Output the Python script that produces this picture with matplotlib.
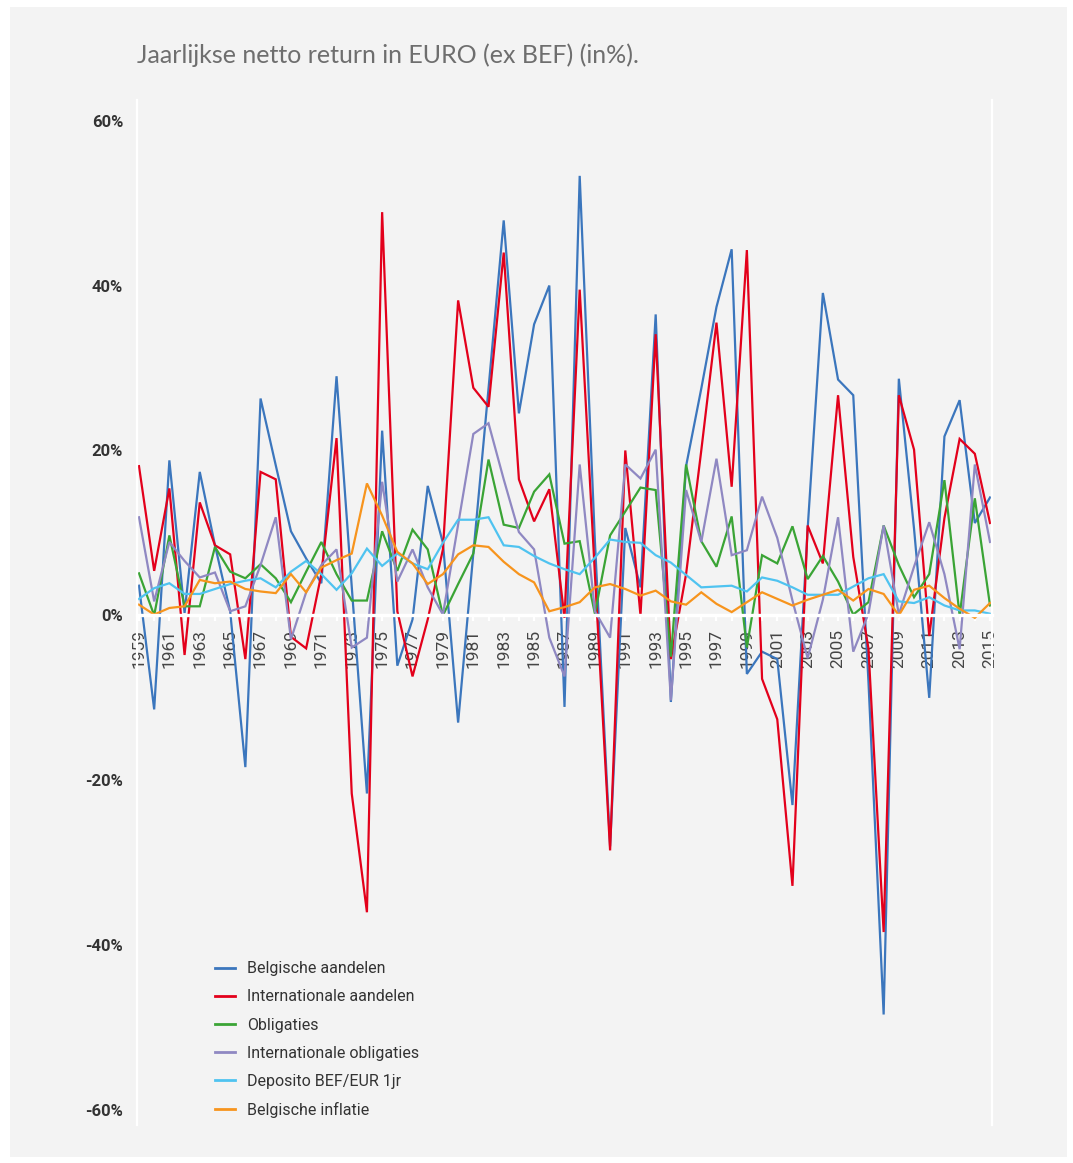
import numpy as np
import matplotlib
matplotlib.use("Agg")
import matplotlib.pyplot as plt
from matplotlib.patches import Rectangle

years = list(range(1959, 2016))

belgische_aandelen = [3.6, -11.4, 18.8, 0.3, 17.4, 8.5, 0.5, -18.4, 26.3, 18.2,
                      10.2, 6.9, 3.9, 29.0, 3.5, -21.6, 22.4, -6.1, -0.5, 15.7,
                      8.8, -13.0, 7.5, 27.5, 47.9, 24.5, 35.3, 40.0, -11.1, 53.3,
                      9.0, -28.0, 10.6, 3.4, 36.5, -10.5, 18.1, 27.5, 37.4, 44.4,
                      -7.1, -4.4, -5.3, -23.0, 10.5, 39.1, 28.6, 26.7, -8.0, -48.4,
                      28.7, 10.5, -10.0, 21.7, 26.1, 11.2, 14.3]
internationale_aandelen = [18.1, 5.4, 15.4, -4.8, 13.7, 8.5, 7.4, -5.3, 17.4, 16.5,
                           -2.6, -4.0, 5.0, 21.5, -21.6, -36.0, 48.9, 0.5, -7.4, -0.5,
                           8.0, 38.2, 27.6, 25.3, 44.0, 16.5, 11.4, 15.3, -0.3, 39.5,
                           5.0, -28.5, 20.0, 0.0, 34.1, -5.3, 5.0, 20.0, 35.5, 15.6,
                           44.3, -7.7, -12.6, -32.8, 10.9, 6.3, 26.7, 7.1, -4.0, -38.4,
                           26.7, 20.1, -2.5, 11.8, 21.4, 19.6, 11.2]
obligaties = [5.1, 0.0, 9.7, 1.1, 1.1, 8.3, 5.3, 4.5, 6.2, 4.5,
              1.6, 5.3, 8.9, 5.0, 1.8, 1.8, 10.2, 5.4, 10.4, 8.0,
              0.0, 3.8, 7.5, 18.9, 11.0, 10.6, 15.0, 17.1, 8.7, 9.0,
              0.2, 9.7, 12.6, 15.5, 15.2, -5.0, 18.3, 9.0, 5.9, 12.0,
              -3.9, 7.3, 6.3, 10.8, 4.4, 7.2, 4.1, 0.1, 1.6, 10.9,
              6.1, 2.2, 5.0, 16.4, 0.0, 14.2, 1.2]
internationale_obligaties = [11.9, 1.7, 8.9, 6.6, 4.6, 5.2, 0.5, 1.1, 6.1, 11.9,
                             -2.9, 2.8, 6.1, 8.0, -3.9, -2.7, 16.2, 4.1, 8.0, 3.4,
                             0.1, 11.0, 22.0, 23.3, 16.5, 10.1, 8.0, -2.7, -7.4, 18.3,
                             0.5, -2.7, 18.3, 16.6, 20.1, -10.3, 15.2, 8.9, 19.0, 7.3,
                             7.9, 14.4, 9.4, 1.8, -5.2, 1.9, 11.9, -4.4, 0.2, 10.9,
                             0.1, 5.9, 11.3, 5.0, -4.1, 18.3, 8.9]
deposito = [2.0, 3.3, 3.9, 2.6, 2.6, 3.2, 3.8, 4.2, 4.5, 3.4,
            5.3, 6.6, 5.0, 3.1, 5.1, 8.1, 6.0, 7.5, 6.3, 5.6,
            8.8, 11.6, 11.6, 11.9, 8.5, 8.3, 7.2, 6.3, 5.6, 5.0,
            7.0, 9.2, 8.9, 8.8, 7.3, 6.4, 4.9, 3.4, 3.5, 3.6,
            2.9, 4.6, 4.2, 3.4, 2.5, 2.5, 2.5, 3.5, 4.5, 5.0,
            1.7, 1.5, 2.2, 1.2, 0.6, 0.6, 0.2]
inflatie = [1.3, 0.1, 0.9, 1.1, 4.3, 3.9, 4.1, 3.2, 2.9, 2.7,
            5.0, 2.8, 5.8, 6.7, 7.5, 16.0, 12.1, 7.7, 6.3, 3.8,
            5.0, 7.4, 8.5, 8.3, 6.5, 5.0, 4.0, 0.5, 1.0, 1.6,
            3.4, 3.8, 3.2, 2.4, 3.0, 1.7, 1.3, 2.8, 1.4, 0.4,
            1.6, 2.8, 2.0, 1.2, 1.9, 2.5, 3.1, 1.8, 3.2, 2.6,
            0.0, 3.1, 3.6, 2.1, 0.8, -0.3, 1.5]

series_names = ["Belgische aandelen", "Internationale aandelen", "Obligaties",
                "Internationale obligaties", "Deposito BEF/EUR 1jr", "Belgische inflatie"]
series_values = [belgische_aandelen, internationale_aandelen, obligaties,
                 internationale_obligaties, deposito, inflatie]
series_colors = ["#3b76bd", "#e3001b", "#3aa435", "#8f88c2", "#4fc3f0", "#f7941d"]

y_ticks = [60, 40, 20, 0, -20, -40, -60]
y_ticklabels = ["60%", "40%", "20%", "0%", "-20%", "-40%", "-60%"]
title = "Jaarlijkse netto return in EURO (ex BEF) (in%)."

narrow = ["Roboto", "DejaVu Sans"]

W, H = 1073, 1163
fig = plt.figure(figsize=(W / 100, H / 100), dpi=100, facecolor="white")
fig.patches.append(Rectangle((10 / W, 1 - 1157 / H), 1057 / W, 1150 / H,
                             transform=fig.transFigure, facecolor="#f3f3f3",
                             edgecolor="none", zorder=-10))

ax = fig.add_axes([137 / W, 38 / H, 855 / W, 1025 / H])
ax.set_facecolor("#f3f3f3")
ax.patch.set_alpha(0)

for name, vals, col in zip(series_names, series_values, series_colors):
    ax.plot(years, vals, color=col, lw=1.6, label=name, solid_joinstyle="miter")

ax.set_xlim(1958.87, 2015.13)
ax.set_ylim(-61.8, 62.5)

ax.spines["top"].set_visible(False)
for s in ["left", "right"]:
    ax.spines[s].set_color("white")
    ax.spines[s].set_linewidth(1.6)
ax.spines["bottom"].set_position(("data", 0))
ax.spines["bottom"].set_color("white")
ax.spines["bottom"].set_linewidth(2.4)
ax.spines["bottom"].set_zorder(5)

ax.set_xticks(years)
ax.set_xticklabels([str(y) if y % 2 == 1 else "" for y in years], rotation=90,
                   family=narrow, fontsize=12.5, color="#444444")
ax.tick_params(axis="x", direction="out", length=4, width=1.6, color="white", pad=6)

ax.set_yticks(y_ticks)
ax.set_yticklabels(y_ticklabels, family=narrow, fontsize=12, color="#333333",
                   fontweight="bold")
ax.tick_params(axis="y", length=0, pad=10)

fig.text(137 / W, 1 - 55 / H, title, family=["Lato", "Open Sans", "DejaVu Sans"],
         fontweight="normal", fontsize=18, color="#6e6e6e", va="center", ha="left")

leg = ax.legend(loc="upper left", bbox_to_anchor=(201 / W, 1 - 947 / H),
                bbox_transform=fig.transFigure, frameon=False,
                prop={"family": narrow, "size": 11.5}, labelcolor="#333333",
                handlelength=1.25, handletextpad=0.75, labelspacing=0.82)
for line in leg.get_lines():
    line.set_linewidth(2.0)

fig.savefig("out.png", dpi=100, facecolor="white")
